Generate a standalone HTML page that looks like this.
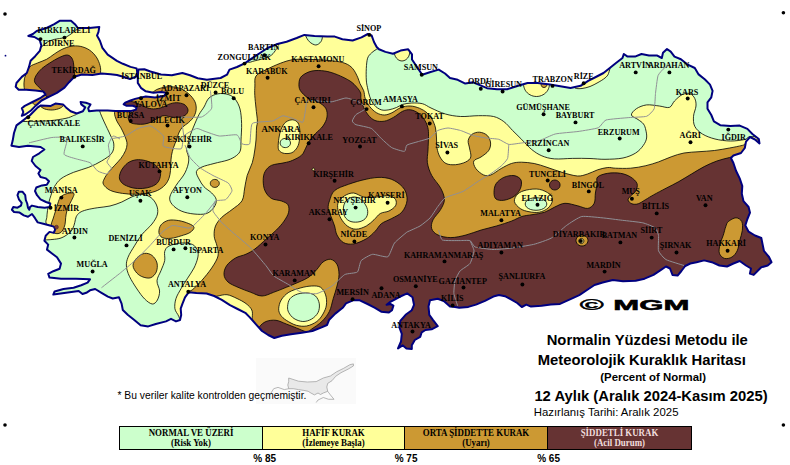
<!DOCTYPE html><html><head><meta charset="utf-8"><title>Kuraklık Haritası</title>
<style>
html,body{margin:0;padding:0;background:#fff;}
body{width:790px;height:465px;overflow:hidden;position:relative;}
svg{position:absolute;left:0;top:0;display:block;}
.c{font-family:"Liberation Serif",serif;font-weight:bold;font-size:8.6px;fill:#000;}
.s{font-family:"Liberation Sans",sans-serif;fill:#000;}
.lg{font-family:"Liberation Serif",serif;font-weight:bold;font-size:10.4px;text-anchor:middle;}
</style></head><body>
<svg width="790" height="465" viewBox="0 0 790 465">
<defs><clipPath id="land"><path d="M138.4,69.5L144.3,69.2L150.4,71.5L161.0,74.5L171.8,75.3L182.4,73.0L190.0,75.3L197.7,78.3L206.9,79.8L220.6,78.0L227.0,74.7L229.5,69.6L237.0,67.0L244.7,63.3L252.3,58.2L260.0,53.0L267.6,48.0L276.4,44.3L286.6,41.7L296.7,38.0L304.4,34.9L314.5,35.9L327.2,36.6L334.8,36.6L342.4,39.2L352.6,40.5L361.5,37.4L367.8,34.0L371.6,35.4L374.0,42.0L376.7,47.0L379.0,49.3L385.4,51.9L393.0,53.7L400.6,50.6L408.2,49.3L412.0,54.4L412.0,59.5L417.0,67.0L422.2,74.7L429.8,72.2L438.7,69.6L445.0,73.5L450.0,78.0L457.7,79.8L465.3,83.6L473.0,82.3L479.3,84.9L487.0,88.2L497.0,89.2L507.2,89.2L517.4,86.0L527.5,83.0L537.7,83.0L550.0,84.6L560.3,86.3L570.5,87.9L580.6,85.8L588.2,80.8L595.8,77.0L603.5,73.0L609.8,68.0L616.0,63.0L622.5,58.0L623.8,54.0L627.6,56.6L635.0,56.6L641.5,54.0L649.0,55.4L656.8,55.4L661.8,58.0L663.0,52.8L667.0,49.0L670.7,51.6L674.5,56.6L680.9,59.2L687.2,64.3L694.8,68.0L698.6,74.4L705.0,79.5L710.0,84.6L712.6,90.9L711.3,97.3L707.5,102.3L707.5,108.7L711.3,115.0L713.9,121.4L720.2,125.2L730.4,126.0L739.7,125.6L747.4,128.9L752.4,134.0L758.8,139.0L759.5,143.4L755.0,139.5L750.0,137.0L746.0,141.6L744.8,148.0L741.0,153.0L733.4,155.5L730.9,158.0L733.4,163.0L736.0,170.8L739.7,178.4L742.3,186.0L741.8,193.6L743.5,201.2L748.6,207.0L750.0,212.7L747.4,219.0L745.3,225.4L748.6,231.7L755.0,235.5L761.3,238.0L762.6,244.4L763.9,250.8L769.0,257.0L771.5,262.2L767.7,265.5L761.3,267.3L757.5,271.0L753.7,274.9L749.9,273.6L751.0,268.5L746.0,265.5L739.7,261.0L733.4,263.5L727.0,266.5L719.4,265.5L711.8,262.2L704.2,260.4L696.6,262.2L690.3,263.5L685.2,266.0L681.4,271.0L677.6,275.6L672.5,274.9L670.0,268.5L666.0,266.5L661.0,269.8L653.5,274.9L644.6,278.7L635.7,280.7L623.0,281.2L612.8,280.0L602.7,282.5L594.5,285.0L587.0,290.0L579.3,295.2L570.0,299.3L560.0,303.9L550.8,304.6L541.6,305.7L531.0,306.6L526.3,304.6L521.8,307.0L517.2,303.0L511.0,299.3L505.0,296.2L498.9,295.0L494.3,296.2L485.0,300.8L476.0,304.6L468.3,306.9L459.2,307.7L455.0,307.0L450.0,306.4L443.8,301.0L437.7,298.7L430.0,300.3L428.5,306.4L429.3,314.8L433.1,320.1L437.7,326.2L431.6,329.3L425.5,330.0L421.7,332.3L420.2,336.9L414.8,340.0L411.8,345.3L411.8,349.0L406.4,348.4L402.6,345.3L398.0,348.4L401.0,341.5L401.8,333.9L399.5,327.7L400.3,320.9L405.6,314.8L411.8,310.2L414.0,304.8L412.5,297.2L407.2,293.4L400.3,296.5L390.4,301.8L386.6,304.8L390.4,304.0L393.4,305.6L392.0,310.2L388.9,312.5L381.2,311.7L375.0,307.9L367.5,304.0L359.8,300.3L353.0,300.3L346.0,303.3L343.0,307.5L335.3,313.6L329.2,319.7L327.0,325.0L321.6,327.3L312.4,331.0L301.8,332.7L291.0,334.2L281.9,335.7L274.3,338.0L268.2,335.0L262.0,331.0L256.0,324.3L249.8,317.4L245.3,312.8L237.6,309.0L230.0,305.2L221.8,299.8L214.2,296.0L206.6,293.5L196.4,293.0L188.8,292.2L185.0,297.3L182.5,303.6L180.7,308.7L181.2,315.0L180.0,320.0L176.0,321.4L171.0,318.8L166.0,321.4L155.8,324.0L148.2,326.4L140.6,325.2L134.3,320.0L128.0,315.0L122.8,310.0L121.6,303.6L119.0,297.3L112.7,298.5L107.9,296.6L101.5,292.8L95.2,289.0L90.0,290.3L86.3,292.8L82.5,294.0L78.7,291.0L66.0,292.8L53.3,294.6L54.6,291.5L63.5,289.0L73.6,287.7L81.2,285.2L87.6,282.6L90.0,279.3L76.0,278.8L61.0,278.8L49.5,277.6L48.2,273.8L53.3,271.2L59.6,268.7L61.0,263.6L57.0,257.3L52.0,253.5L47.0,249.6L48.2,244.6L44.4,240.8L45.7,235.7L49.5,231.9L53.8,232.9L55.2,229.4L53.8,226.6L49.0,225.2L43.3,223.8L37.7,222.4L35.0,218.2L32.0,214.0L28.0,216.8L23.8,215.4L19.6,212.6L14.0,212.0L11.9,209.8L13.3,207.0L17.5,207.7L21.0,205.6L21.7,202.8L18.9,199.3L17.5,195.2L18.9,191.7L22.4,191.7L25.2,195.2L25.8,200.0L27.2,203.5L28.0,207.7L29.3,209.8L30.0,207.0L32.0,205.6L37.7,207.0L44.7,207.7L49.6,207.0L50.3,203.5L46.0,202.0L40.5,199.3L37.0,195.2L35.0,191.0L36.3,187.5L42.0,185.4L46.8,184.7L49.0,181.2L46.0,178.4L40.5,177.0L38.4,173.5L40.5,170.0L35.5,166.0L31.7,161.0L33.0,157.0L39.3,153.3L44.4,149.5L40.6,147.0L28.0,145.7L19.0,147.0L11.4,145.7L12.7,140.6L14.0,133.0L16.5,125.4L21.6,121.6L28.0,116.5L28.2,117.0L31.7,113.5L37.8,107.4L40.9,105.4L50.8,105.9L55.4,103.6L63.0,104.4L66.0,107.4L70.6,111.2L76.8,113.5L82.9,111.2L85.2,107.4L81.3,104.4L80.6,102.0L85.9,102.8L90.5,104.4L88.2,108.2L89.0,111.2L96.6,110.5L107.6,110.4L115.3,111.1L122.9,111.1L130.5,111.1L135.9,109.6L136.6,107.3L132.8,105.8L126.7,105.8L123.7,104.3L125.2,102.7L130.5,100.5L135.1,98.9L141.2,97.4L145.8,96.6L155.0,97.4L164.1,95.9L166.4,92.8L161.0,92.0L153.4,92.8L145.8,91.3L141.2,88.2L137.8,82.9L137.8,76.8Z"/><path d="M28.3,36.0L32.9,34.0L36.7,31.0L46.6,28.0L54.3,24.2L59.6,20.8L71.0,20.8L74.9,24.2L77.9,28.0L89.4,28.0L99.3,26.9L98.5,31.8L97.0,35.6L100.0,41.0L102.4,47.8L107.7,54.7L116.9,60.8L122.9,63.8L130.5,66.9L136.6,68.4L137.2,72.2L135.9,76.8L130.0,79.0L124.0,77.0L117.0,75.0L110.7,74.2L101.6,73.5L92.4,75.0L81.8,74.5L74.4,76.8L69.1,82.2L64.5,87.6L56.9,92.9L49.3,96.7L41.6,100.5L35.5,105.9L31.0,110.5L25.6,114.3L21.8,115.8L23.3,112.0L21.8,108.2L24.8,105.9L32.5,102.0L40.1,98.2L45.5,94.4L43.2,91.4L35.5,90.6L26.4,89.8L18.7,89.8L15.7,86.8L16.5,83.0L21.8,76.9L26.8,73.0L29.0,66.9L30.6,60.8L35.2,56.2L39.8,50.9L41.3,45.5L39.8,40.2L34.4,37.0Z"/></clipPath></defs>
<rect width="790" height="465" fill="#fff"/>
<g clip-path="url(#land)">
<rect x="0" y="0" width="790" height="360" fill="#ffff99"/>
<path d="M25.0,33.0C26.2,30.0 34.2,27.0 40.0,24.0C45.8,21.0 54.2,16.2 60.0,15.0C65.8,13.8 71.7,15.0 75.0,17.0C78.3,19.0 79.9,24.8 80.0,27.0C80.1,29.2 77.1,29.1 75.6,30.3C74.1,31.5 72.8,32.8 71.0,34.0C69.2,35.2 67.3,36.7 64.5,37.6C61.7,38.5 57.3,38.6 54.3,39.4C51.3,40.2 48.6,41.3 46.6,42.5C44.6,43.7 43.4,45.6 42.0,46.5C40.6,47.4 39.5,48.8 38.0,48.0C36.5,47.2 35.2,44.5 33.0,42.0C30.8,39.5 23.8,36.0 25.0,33.0Z" fill="#ccffcc" stroke="#000" stroke-width="0.8"/>
<path d="M0.0,121.0C4.0,102.6 18.1,121.5 24.0,121.5C29.9,121.5 31.0,121.5 35.5,121.3C40.0,121.1 45.7,121.1 50.8,120.6C55.9,120.1 62.2,119.1 66.0,118.3C69.8,117.5 71.9,116.3 73.7,115.5C75.5,114.7 76.2,115.1 76.8,113.5C77.3,111.9 76.5,108.4 77.0,106.0C77.5,103.6 77.0,100.0 80.0,99.0C83.0,98.0 91.7,98.8 95.0,100.0C98.3,101.2 98.9,104.1 99.7,106.0C100.5,107.9 99.0,108.5 99.7,111.2C100.5,113.9 102.4,118.0 104.2,122.0C106.0,126.0 108.7,131.3 110.3,135.0C111.9,138.7 113.6,140.9 113.8,144.0C114.0,147.1 113.8,150.5 111.7,153.3C109.7,156.1 105.3,158.7 101.5,161.0C97.7,163.3 93.5,165.4 88.8,167.3C84.1,169.2 78.2,170.4 73.6,172.3C69.0,174.2 64.2,176.3 61.0,178.7C57.8,181.1 56.2,183.8 54.5,186.5C52.8,189.2 51.9,192.6 51.0,195.2C50.1,197.8 49.6,199.4 49.0,202.0C48.4,204.6 47.9,207.9 47.5,210.5C47.1,213.1 47.0,215.4 46.8,217.5C46.5,219.6 45.5,220.6 46.0,223.0C46.5,225.4 57.7,230.5 50.0,232.0C42.3,233.5 8.3,250.5 0.0,232.0C-8.3,213.5 -4.0,139.4 0.0,121.0Z" fill="#ccffcc" stroke="#000" stroke-width="0.8"/>
<path d="M40.0,240.0C48.7,239.9 48.5,239.8 52.0,239.5C55.5,239.2 58.2,239.0 61.0,238.0C63.8,237.0 66.5,235.2 68.5,233.6C70.5,232.0 71.7,230.6 72.7,228.7C73.8,226.8 74.2,224.4 74.8,222.4C75.4,220.4 75.4,218.4 76.2,216.8C77.0,215.2 78.0,213.8 79.7,212.6C81.5,211.4 83.7,210.6 86.7,209.8C89.7,209.0 93.9,208.3 97.8,207.7C101.7,207.1 106.0,206.9 110.0,206.0C114.0,205.1 118.1,203.5 121.8,202.0C125.5,200.5 128.6,198.1 132.0,196.8C135.4,195.5 138.8,194.3 142.0,194.4C145.2,194.5 148.6,195.8 151.0,197.6C153.4,199.4 155.4,202.3 156.5,205.0C157.6,207.7 158.2,210.8 157.5,214.0C156.8,217.2 154.6,220.6 152.0,224.0C149.4,227.4 144.9,230.8 142.0,234.4C139.1,238.0 136.8,242.0 134.5,245.8C132.2,249.6 129.3,253.9 128.0,257.3C126.7,260.7 126.2,262.8 126.4,266.0C126.6,269.2 127.6,272.5 129.4,276.3C131.2,280.1 134.4,285.2 137.0,289.0C139.6,292.8 142.1,296.5 144.7,299.0C147.2,301.5 150.2,303.8 152.3,304.0C154.4,304.2 156.2,302.2 157.4,300.0C158.6,297.8 159.7,294.2 159.6,291.0C159.5,287.8 156.8,284.2 157.0,280.8C157.2,277.4 159.7,274.0 161.0,270.6C162.3,267.2 164.1,263.7 164.7,260.5C165.3,257.3 164.0,254.0 164.7,251.6C165.4,249.2 166.2,247.4 169.0,246.0C171.8,244.6 177.3,243.2 181.2,243.0C185.1,242.8 189.8,243.2 192.6,244.5C195.3,245.8 196.8,248.8 197.7,251.0C198.5,253.2 198.3,255.2 197.7,258.0C197.1,260.8 195.7,264.6 194.0,268.0C192.3,271.4 189.7,274.8 187.6,278.2C185.5,281.6 183.1,285.0 181.2,288.4C179.3,291.8 177.1,295.1 176.0,298.5C174.9,301.9 174.5,305.7 174.9,308.7C175.3,311.7 177.7,313.6 178.7,316.3C179.7,319.0 180.6,319.4 181.0,325.0C181.4,330.6 211.2,345.8 181.0,350.0C150.8,354.2 30.2,368.3 0.0,350.0C-30.2,331.7 -6.7,258.3 0.0,240.0C6.7,221.7 31.3,240.1 40.0,240.0Z" fill="#ccffcc" stroke="#000" stroke-width="0.8"/>
<path d="M209.0,98.0C211.3,95.8 214.8,94.4 218.0,93.8C221.2,93.2 225.4,93.6 228.2,94.5C231.0,95.4 233.0,96.6 235.0,99.0C237.0,101.4 238.9,104.9 240.0,109.0C241.1,113.1 241.4,118.3 241.6,123.5C241.8,128.7 241.2,135.6 241.0,140.0C240.8,144.4 241.2,147.4 240.5,150.0C239.8,152.6 238.6,153.8 236.5,155.5C234.4,157.2 231.8,158.7 228.0,160.0C224.2,161.3 218.3,162.3 214.0,163.5C209.7,164.7 204.9,165.7 202.0,167.0C199.1,168.3 196.9,169.6 196.4,171.6C195.9,173.6 197.7,176.5 199.0,179.0C200.3,181.5 201.9,184.5 204.0,186.8C206.1,189.1 209.7,190.9 211.7,193.0C213.7,195.1 215.8,197.2 216.2,199.5C216.6,201.8 215.8,204.7 214.2,207.0C212.6,209.3 210.0,212.3 206.6,213.5C203.2,214.7 198.2,214.4 194.0,214.0C189.8,213.6 184.8,212.6 181.2,211.0C177.6,209.4 174.2,206.9 172.3,204.6C170.4,202.3 169.2,200.2 169.8,197.0C170.4,193.8 173.5,189.5 176.0,185.5C178.5,181.5 182.9,177.1 185.0,172.8C187.1,168.6 188.6,163.8 188.8,160.0C189.1,156.2 186.7,152.3 186.5,150.0C186.3,147.7 187.0,148.6 187.6,146.3C188.2,144.0 188.9,139.4 190.0,136.0C191.1,132.6 192.4,129.6 193.9,126.0C195.4,122.4 197.3,117.8 199.0,114.6C200.7,111.4 202.3,109.8 204.0,107.0C205.7,104.2 206.7,100.2 209.0,98.0Z" fill="#ccffcc" stroke="#000" stroke-width="0.8"/>
<path d="M400.0,25.0C332.7,28.7 389.5,38.2 386.0,42.0C382.5,45.8 380.6,46.8 379.0,48.0C377.4,49.2 377.8,48.5 376.5,49.3C375.2,50.1 372.9,51.5 371.4,53.0C369.9,54.5 368.5,55.6 367.6,58.2C366.8,60.8 366.5,64.8 366.3,68.4C366.1,72.0 366.1,76.8 366.3,80.0C366.5,83.2 366.9,84.8 367.5,87.6C368.1,90.4 368.7,93.9 369.8,96.8C370.9,99.7 372.5,103.0 374.4,105.2C376.3,107.4 378.8,109.0 381.2,109.8C383.6,110.6 386.3,110.2 388.9,109.8C391.4,109.4 394.2,108.4 396.5,107.5C398.8,106.6 400.1,105.2 402.6,104.4C405.2,103.7 408.5,103.1 411.8,103.0C415.1,102.9 419.2,102.9 422.4,103.7C425.6,104.5 427.2,106.3 431.0,108.0C434.8,109.7 440.5,112.6 445.4,114.0C450.3,115.4 455.1,116.2 460.6,116.5C466.1,116.8 472.9,115.7 478.4,115.7C483.9,115.7 489.4,115.5 493.6,116.5C497.8,117.5 500.6,119.3 503.8,121.6C507.0,123.9 509.7,127.5 512.6,130.5C515.6,133.4 518.3,136.1 521.5,139.3C524.7,142.5 528.3,146.8 531.7,149.5C535.1,152.2 538.0,154.2 541.8,155.8C545.6,157.4 549.4,158.5 554.5,158.9C559.6,159.3 566.4,158.5 572.3,158.4C578.2,158.3 584.5,158.3 590.0,158.5C595.5,158.7 599.5,159.4 605.0,159.3C610.5,159.2 617.9,159.1 623.0,158.0C628.1,156.9 632.3,155.1 635.7,153.0C639.1,150.9 641.5,147.9 643.3,145.4C645.1,142.9 646.2,140.6 646.6,138.0C647.0,135.4 646.3,132.3 645.8,130.0C645.3,127.7 644.8,125.8 643.5,124.0C642.2,122.2 640.0,121.0 638.0,119.5C636.0,118.0 631.7,116.8 631.4,115.0C631.1,113.2 633.9,110.4 636.4,108.7C638.9,107.0 642.8,105.4 646.6,104.9C650.4,104.5 655.5,105.6 659.3,106.0C663.1,106.4 666.9,108.2 669.4,107.4C671.9,106.6 672.4,103.1 674.5,101.0C676.6,98.9 679.5,96.0 682.0,94.7C684.5,93.5 687.6,92.9 689.7,93.5C691.8,94.1 693.8,96.4 694.8,98.5C695.8,100.6 696.2,103.0 696.0,106.0C695.8,109.0 693.7,112.9 693.5,116.3C693.3,119.7 693.3,123.5 694.8,126.4C696.3,129.3 699.0,131.9 702.4,134.0C705.8,136.1 710.3,137.8 715.0,139.0C719.7,140.2 725.4,140.9 730.4,141.0C735.4,141.1 741.1,140.2 744.8,139.5C748.5,138.8 744.9,137.1 752.4,136.5C759.9,135.9 783.7,155.4 790.0,136.0C796.3,116.6 855.0,38.5 790.0,20.0C725.0,1.5 467.3,21.3 400.0,25.0Z" fill="#ccffcc" stroke="#000" stroke-width="0.8"/>
<path d="M305.6,30.0C302.8,30.9 305.0,33.4 305.6,35.4C306.2,37.4 307.7,40.1 309.4,41.7C311.1,43.3 313.9,45.0 315.8,45.0C317.7,45.0 319.8,43.2 320.9,41.7C322.0,40.2 322.3,38.0 322.6,36.0C322.9,34.0 325.4,31.0 322.6,30.0C319.8,29.0 308.4,29.1 305.6,30.0Z" fill="#ccffcc" stroke="#000" stroke-width="0.8"/>
<path d="M248.0,62.0C249.3,63.0 251.8,61.5 254.0,61.0C256.2,60.5 258.3,60.1 261.0,59.3C263.7,58.5 267.9,57.4 270.2,56.0C272.5,54.6 273.9,52.7 275.0,51.0C276.1,49.3 278.7,47.2 277.0,46.0C275.3,44.8 270.2,42.5 265.0,44.0C259.8,45.5 248.8,52.0 246.0,55.0C243.2,58.0 246.7,61.0 248.0,62.0Z" fill="#ccffcc" stroke="#000" stroke-width="0.8"/>
<path d="M549.5,84.0C549.5,86.1 548.8,88.4 547.8,90.2C546.7,92.1 544.9,93.8 543.0,94.8C541.1,95.9 538.7,96.5 536.5,96.5C534.3,96.5 531.9,95.9 530.0,94.8C528.1,93.8 526.3,92.1 525.2,90.2C524.2,88.4 523.5,86.1 523.5,84.0C523.5,81.9 524.2,79.6 525.2,77.8C526.3,75.9 528.1,74.2 530.0,73.2C531.9,72.1 534.3,71.5 536.5,71.5C538.7,71.5 541.1,72.1 543.0,73.2C544.9,74.2 546.7,75.9 547.8,77.8C548.8,79.6 549.5,81.9 549.5,84.0Z" fill="#ffff99" stroke="#000" stroke-width="0.8"/>
<path d="M409.8,51.5C409.8,53.1 409.4,54.9 408.8,56.2C408.1,57.6 407.0,58.9 405.9,59.7C404.8,60.5 403.3,61.0 402.0,61.0C400.7,61.0 399.2,60.5 398.1,59.7C397.0,58.9 395.9,57.6 395.2,56.2C394.6,54.9 394.2,53.1 394.2,51.5C394.2,49.9 394.6,48.1 395.2,46.8C395.9,45.4 397.0,44.1 398.1,43.3C399.2,42.5 400.7,42.0 402.0,42.0C403.3,42.0 404.8,42.5 405.9,43.3C407.0,44.1 408.1,45.4 408.8,46.7C409.4,48.1 409.8,49.9 409.8,51.5Z" fill="#ffff99" stroke="#000" stroke-width="0.8"/>
<path d="M575.0,88.0C576.2,88.8 579.5,88.8 582.0,88.5C584.5,88.2 587.3,87.5 590.0,86.5C592.7,85.5 595.5,83.9 598.0,82.5C600.5,81.1 603.2,79.5 605.0,78.0C606.8,76.5 607.8,75.5 608.5,73.5C609.2,71.5 610.9,66.6 609.5,66.0C608.1,65.4 604.1,67.7 600.0,70.0C595.9,72.3 589.2,77.7 585.0,80.0C580.8,82.3 576.7,82.7 575.0,84.0C573.3,85.3 573.8,87.2 575.0,88.0Z" fill="#ffff99" stroke="#000" stroke-width="0.8"/>
<path d="M25.3,76.0C26.2,73.8 27.8,69.1 29.8,66.9C31.8,64.7 34.7,64.3 37.5,63.0C40.3,61.7 43.8,60.8 46.6,59.3C49.4,57.8 51.8,55.6 54.3,54.0C56.8,52.4 59.1,50.7 61.9,49.4C64.7,48.1 68.0,46.8 71.0,46.3C74.0,45.8 77.1,45.7 80.2,46.3C83.3,46.9 86.7,48.2 89.4,50.0C92.1,51.8 94.5,54.4 96.3,57.0C98.1,59.6 99.3,62.9 100.0,65.4C100.7,68.0 100.8,70.2 100.5,72.3C100.2,74.4 100.6,76.4 98.0,78.0C95.4,79.6 89.7,79.7 85.0,82.0C80.3,84.3 75.0,89.5 70.0,92.0C65.0,94.5 58.7,96.3 55.0,97.0C51.3,97.7 49.7,96.7 48.0,96.0C46.3,95.3 47.2,93.6 45.0,93.0C42.8,92.4 38.2,92.7 35.0,92.5C31.8,92.3 27.8,93.1 26.0,92.0C24.2,90.9 24.3,88.0 24.0,86.0C23.7,84.0 24.1,81.7 24.3,80.0C24.5,78.3 24.4,78.2 25.3,76.0Z" fill="#cc9933" stroke="#000" stroke-width="0.8"/>
<path d="M38.0,103.0C38.4,104.0 39.0,104.9 40.1,105.9C41.2,106.9 42.7,108.3 44.7,109.0C46.7,109.7 49.8,110.1 52.3,110.0C54.8,109.9 58.1,109.1 60.0,108.2C61.9,107.3 63.1,106.2 63.8,104.8C64.5,103.4 68.3,100.8 64.0,100.0C59.7,99.2 42.3,99.5 38.0,100.0C33.7,100.5 37.6,102.0 38.0,103.0Z" fill="#cc9933" stroke="#000" stroke-width="0.8"/>
<path d="M46.0,94.0C46.5,94.7 47.7,95.9 47.0,97.0C46.3,98.1 43.4,99.5 41.6,100.8C39.9,102.1 37.9,104.5 36.5,105.0C35.1,105.5 33.6,104.2 33.0,103.5C32.4,102.8 31.8,102.1 33.0,101.0C34.2,99.9 38.2,98.3 40.0,97.0C41.8,95.7 43.0,93.5 44.0,93.0C45.0,92.5 45.5,93.3 46.0,94.0Z" fill="#cc9933" stroke="#000" stroke-width="0.8"/>
<path d="M152.0,92.5C154.2,91.6 155.2,90.0 158.0,89.0C160.8,88.0 165.1,86.8 168.7,86.7C172.3,86.6 176.1,87.1 179.4,88.2C182.7,89.3 185.9,91.4 188.5,93.6C191.1,95.8 193.4,98.7 194.7,101.2C196.0,103.8 196.3,106.4 196.2,108.9C196.1,111.5 195.2,114.2 193.9,116.5C192.6,118.8 190.4,120.8 188.5,122.6C186.6,124.4 184.0,125.5 182.4,127.2C180.8,128.9 179.8,130.9 178.8,133.0C177.8,135.1 177.4,137.6 176.5,140.0C175.6,142.4 174.3,145.0 173.5,147.6C172.7,150.2 171.9,152.8 171.5,155.3C171.1,157.9 171.0,160.4 170.8,162.9C170.6,165.4 170.8,167.9 170.5,170.5C170.2,173.1 169.9,175.8 169.0,178.2C168.1,180.6 166.9,183.0 165.0,185.0C163.1,187.0 160.6,189.0 157.6,190.4C154.6,191.8 150.7,192.8 146.9,193.4C143.1,194.0 138.8,194.2 134.7,194.2C130.6,194.2 126.6,194.0 122.5,193.4C118.4,192.8 113.5,191.9 110.3,190.4C107.1,188.9 104.4,186.2 103.4,184.3C102.4,182.4 103.3,181.1 104.2,179.0C105.1,176.9 106.9,174.3 108.7,172.0C110.5,169.7 112.8,167.5 114.8,165.2C116.8,162.9 119.2,160.7 121.0,158.3C122.8,155.9 124.5,153.0 125.5,150.7C126.5,148.4 126.9,146.4 127.0,144.6C127.1,142.8 126.9,141.9 126.3,140.0C125.7,138.1 124.5,135.1 123.5,133.0C122.5,130.9 121.7,129.2 120.6,127.2C119.5,125.2 117.8,123.4 116.8,121.0C115.8,118.6 114.3,115.0 114.5,112.7C114.7,110.4 116.8,109.1 118.0,107.0C119.2,104.9 119.2,102.0 122.0,100.0C124.8,98.0 131.2,95.9 135.0,95.0C138.8,94.1 142.2,94.9 145.0,94.5C147.8,94.1 149.8,93.4 152.0,92.5Z" fill="#cc9933" stroke="#000" stroke-width="0.8"/>
<path d="M51.0,225.2C51.2,223.2 52.3,221.2 53.0,219.0C53.7,216.8 54.5,214.3 55.2,212.0C55.9,209.7 56.5,207.3 57.3,205.0C58.1,202.7 58.8,199.8 60.0,198.0C61.2,196.2 62.6,195.3 64.3,194.5C66.0,193.7 68.3,193.2 69.9,193.0C71.5,192.8 73.5,192.7 74.0,193.5C74.5,194.3 73.4,196.3 72.7,198.0C72.0,199.7 70.9,201.4 69.9,203.5C69.0,205.6 67.7,208.2 67.0,210.5C66.3,212.8 66.0,215.2 65.7,217.5C65.4,219.8 65.5,222.4 65.0,224.5C64.5,226.6 63.7,228.6 62.9,230.0C62.1,231.4 61.1,232.4 60.0,233.0C58.9,233.6 57.3,233.9 56.0,233.6C54.7,233.3 52.8,232.4 52.0,231.0C51.2,229.6 50.8,227.2 51.0,225.2Z" fill="#cc9933" stroke="#000" stroke-width="0.8"/>
<path d="M158.9,232.5C158.7,230.4 159.4,226.9 161.0,224.9C162.6,222.9 165.6,221.0 168.5,220.3C171.4,219.6 175.3,220.1 178.7,220.6C182.1,221.1 186.2,222.5 188.8,223.6C191.4,224.7 193.8,225.9 194.0,227.4C194.2,228.9 192.1,231.1 190.0,232.5C187.9,233.9 184.4,234.8 181.2,235.8C178.0,236.8 174.2,238.0 171.0,238.3C167.8,238.6 164.2,238.6 162.2,237.6C160.2,236.6 159.1,234.6 158.9,232.5Z" fill="#cc9933" stroke="#000" stroke-width="0.8"/>
<path d="M133.0,265.5C133.0,263.0 134.9,260.0 136.8,258.0C138.7,256.0 141.9,253.8 144.4,253.4C146.9,253.0 149.9,253.8 152.0,255.4C154.1,257.0 156.3,260.2 157.0,263.0C157.7,265.8 157.3,269.4 156.3,271.9C155.3,274.3 153.0,276.8 150.8,277.7C148.6,278.6 145.3,277.8 143.0,277.0C140.7,276.2 138.5,274.9 136.8,273.0C135.1,271.1 133.0,268.0 133.0,265.5Z" fill="#cc9933" stroke="#000" stroke-width="0.8"/>
<path d="M219.3,183.4C219.3,184.1 219.1,184.8 218.7,185.4C218.3,186.0 217.7,186.5 217.1,186.9C216.4,187.2 215.6,187.4 214.8,187.4C214.1,187.4 213.2,187.2 212.6,186.9C211.9,186.5 211.3,186.0 210.9,185.4C210.5,184.8 210.3,184.1 210.3,183.4C210.3,182.7 210.5,182.0 210.9,181.4C211.3,180.8 211.9,180.3 212.6,179.9C213.2,179.6 214.1,179.4 214.8,179.4C215.6,179.4 216.4,179.6 217.1,179.9C217.7,180.3 218.3,180.8 218.7,181.4C219.1,182.0 219.3,182.7 219.3,183.4Z" fill="#cc9933" stroke="#000" stroke-width="0.8"/>
<path d="M256.0,76.0C257.9,73.3 262.2,71.7 266.3,69.6C270.4,67.5 275.7,65.0 280.3,63.3C284.9,61.6 288.9,60.1 294.2,59.5C299.5,58.9 305.6,59.3 312.0,59.5C318.4,59.7 326.8,60.2 332.3,60.8C337.8,61.4 341.6,62.0 345.0,63.3C348.4,64.6 350.5,66.1 352.6,68.4C354.7,70.7 356.5,74.8 357.7,77.3C358.9,79.8 359.0,81.4 360.0,83.6C361.0,85.8 362.8,88.2 363.7,90.7C364.6,93.2 364.2,95.6 365.2,98.3C366.2,101.0 367.9,104.3 369.8,106.7C371.7,109.1 374.2,111.4 376.6,112.8C379.0,114.2 381.8,115.0 384.3,115.0C386.9,115.0 389.1,114.0 391.9,112.8C394.7,111.5 397.9,108.6 401.0,107.5C404.1,106.4 407.1,105.9 410.2,106.0C413.3,106.1 416.6,107.1 419.4,108.2C422.2,109.3 424.9,111.0 427.0,112.8C429.1,114.6 430.6,116.5 432.0,119.0C433.4,121.5 434.8,124.8 435.5,128.0C436.2,131.2 436.2,134.7 436.5,138.0C436.8,141.3 436.4,144.8 437.0,148.0C437.6,151.2 438.5,154.4 440.0,157.0C441.5,159.6 443.4,162.2 446.0,163.5C448.6,164.8 452.2,164.9 455.5,164.7C458.8,164.4 463.1,163.3 465.7,162.0C468.2,160.7 470.2,159.3 470.8,157.0C471.4,154.7 469.9,150.7 469.5,148.0C469.1,145.3 467.8,142.9 468.2,140.6C468.6,138.3 470.1,135.7 472.0,134.3C473.9,132.9 477.1,132.0 479.6,132.2C482.2,132.4 485.5,133.7 487.3,135.5C489.1,137.3 490.4,140.4 490.6,143.0C490.8,145.6 490.1,148.5 488.5,150.8C486.9,153.1 483.4,155.3 481.0,157.0C478.6,158.7 474.7,159.1 473.8,161.0C472.9,162.9 474.2,166.2 475.8,168.5C477.4,170.8 481.0,173.8 483.5,174.9C486.0,176.0 488.1,176.0 491.0,174.9C493.9,173.8 497.8,170.4 501.2,168.5C504.6,166.6 508.0,164.6 511.4,163.5C514.8,162.4 517.7,162.2 521.5,162.2C525.3,162.2 530.0,162.7 534.2,163.5C538.5,164.3 542.4,165.8 547.0,167.3C551.6,168.8 556.9,170.9 562.0,172.3C567.1,173.8 573.1,175.7 577.4,176.0C581.6,176.3 584.1,175.0 587.5,174.0C590.9,173.0 594.3,170.9 597.7,169.8C601.1,168.7 604.8,167.8 607.8,167.5C610.8,167.2 611.6,168.1 615.4,168.2C619.2,168.3 625.5,168.6 630.6,168.2C635.7,167.8 641.1,166.8 645.8,165.7C650.4,164.6 654.3,163.4 658.5,161.9C662.7,160.4 667.0,158.3 671.2,156.8C675.5,155.3 679.4,153.8 684.0,153.0C688.6,152.2 693.9,152.1 699.0,151.7C704.1,151.3 709.3,151.1 714.4,150.5C719.5,149.9 725.0,148.8 729.6,148.0C734.2,147.2 738.9,146.2 742.3,145.4C745.7,144.7 742.0,143.9 750.0,143.5C758.0,143.1 783.3,106.9 790.0,143.0C796.7,179.1 881.7,323.8 790.0,360.0C698.3,396.2 337.0,366.3 240.0,360.0C143.0,353.7 215.7,332.2 208.0,322.0C200.3,311.8 197.2,304.0 194.0,299.0C190.8,294.0 189.0,293.8 188.8,292.2C188.6,290.6 190.5,291.5 192.6,289.6C194.7,287.7 198.3,284.4 201.5,280.8C204.7,277.2 208.9,272.1 211.7,268.0C214.4,263.9 217.1,259.7 218.0,256.0C218.9,252.3 217.6,249.3 217.0,246.0C216.4,242.7 214.4,239.6 214.2,236.3C213.9,233.0 214.2,229.2 215.5,226.0C216.8,222.8 219.1,220.0 221.8,217.3C224.6,214.6 228.6,212.3 232.0,209.6C235.4,206.8 239.9,204.4 242.0,200.8C244.1,197.2 243.8,192.2 244.7,188.0C245.6,183.8 245.9,179.6 247.2,175.4C248.5,171.2 251.0,166.9 252.3,162.7C253.6,158.5 254.2,153.8 254.8,150.0C255.4,146.2 255.7,143.7 256.0,140.0C256.3,136.3 256.3,131.2 256.5,128.0C256.7,124.8 257.5,124.3 257.4,121.0C257.3,117.7 256.4,112.5 256.0,108.2C255.6,104.0 255.0,99.2 254.8,95.5C254.6,91.8 254.7,89.2 254.9,86.0C255.1,82.8 254.1,78.7 256.0,76.0Z" fill="#cc9933" stroke="#000" stroke-width="0.8"/>
<path d="M546.9,84.6C546.9,85.3 546.5,86.2 546.1,86.7C545.6,87.1 544.7,87.5 544.0,87.5C543.3,87.5 542.4,87.1 541.9,86.7C541.5,86.2 541.1,85.3 541.1,84.6C541.1,83.9 541.5,83.0 541.9,82.5C542.4,82.1 543.3,81.7 544.0,81.7C544.7,81.7 545.6,82.1 546.1,82.5C546.5,83.0 546.9,83.9 546.9,84.6Z" fill="#cc9933" stroke="#000" stroke-width="0.8"/>
<path d="M34.4,80.6C34.4,78.8 35.4,76.5 36.7,74.5C38.0,72.5 39.8,70.3 42.0,68.4C44.2,66.5 46.9,64.8 49.7,63.0C52.5,61.2 56.1,59.0 58.9,57.7C61.7,56.4 64.5,55.1 66.5,55.0C68.5,54.9 69.8,55.8 71.0,57.0C72.2,58.2 72.9,60.1 73.4,62.3C73.9,64.5 73.8,67.5 74.0,70.0C74.2,72.5 75.2,74.7 74.5,77.0C73.8,79.3 72.1,81.7 70.0,84.0C67.9,86.3 65.0,88.8 62.0,91.0C59.0,93.2 54.7,96.2 52.0,97.0C49.3,97.8 47.5,96.9 46.0,96.0C44.5,95.1 44.7,93.2 43.2,91.4C41.7,89.6 38.5,87.1 37.0,85.3C35.5,83.5 34.4,82.4 34.4,80.6Z" fill="#663333" stroke="#000" stroke-width="0.8"/>
<path d="M124.0,102.5C125.1,101.5 127.9,100.9 130.5,101.2C133.1,101.5 137.1,103.3 139.7,104.3C142.2,105.3 143.5,106.5 145.8,107.3C148.1,108.1 150.6,108.9 153.4,108.9C156.2,108.9 160.1,108.1 162.6,107.3C165.1,106.5 166.4,105.1 168.7,104.3C171.0,103.5 173.8,102.7 176.3,102.7C178.9,102.7 182.1,103.3 184.0,104.3C185.9,105.3 187.3,107.4 187.8,108.9C188.3,110.4 187.9,112.1 187.0,113.4C186.1,114.7 184.7,115.8 182.4,116.5C180.1,117.2 176.4,117.4 173.3,117.3C170.2,117.2 166.7,115.6 164.1,115.7C161.5,115.8 160.0,117.0 158.0,118.0C156.0,119.0 154.2,120.8 151.9,121.8C149.6,122.8 146.9,123.7 144.3,124.1C141.8,124.5 138.9,124.3 136.6,124.1C134.3,123.8 131.9,123.6 130.5,122.6C129.1,121.6 128.3,119.5 128.2,118.0C128.1,116.5 129.1,114.9 130.0,113.8C130.9,112.7 133.5,112.2 133.5,111.5C133.5,110.8 131.6,110.2 130.0,109.5C128.4,108.8 125.0,108.7 124.0,107.5C123.0,106.3 122.9,103.5 124.0,102.5Z" fill="#663333" stroke="#000" stroke-width="0.8"/>
<path d="M119.4,176.6C119.6,174.7 120.3,172.1 121.7,169.8C123.1,167.5 125.4,164.6 127.8,162.9C130.2,161.2 133.3,160.2 136.2,159.8C139.1,159.4 142.3,159.8 145.4,160.6C148.5,161.4 152.1,162.8 154.5,164.4C156.9,166.1 158.9,168.5 159.9,170.5C160.9,172.5 160.7,174.6 160.3,176.6C159.9,178.6 159.1,181.0 157.6,182.7C156.1,184.4 154.1,185.6 151.5,186.6C148.9,187.6 145.4,188.3 142.3,188.5C139.2,188.7 136.1,188.6 133.2,188.0C130.3,187.4 126.9,186.1 124.8,185.0C122.7,183.9 121.5,182.6 120.6,181.2C119.7,179.8 119.2,178.5 119.4,176.6Z" fill="#663333" stroke="#000" stroke-width="0.8"/>
<path d="M299.0,83.0C299.2,80.6 299.6,78.0 301.8,76.0C304.0,74.0 308.2,71.8 312.0,71.0C315.8,70.2 320.5,70.4 324.7,71.0C328.9,71.6 333.2,73.0 337.4,74.7C341.6,76.4 346.7,78.9 350.0,81.0C353.3,83.1 355.2,85.5 357.0,87.5C358.8,89.5 359.9,91.1 360.6,93.0C361.3,94.9 360.5,96.6 361.0,99.0C361.5,101.4 362.5,104.8 363.7,107.5C364.9,110.2 366.3,112.8 368.2,115.0C370.1,117.2 372.3,119.5 375.0,120.5C377.7,121.5 381.2,121.7 384.3,121.2C387.4,120.7 390.3,119.1 393.4,117.4C396.4,115.8 399.8,112.6 402.6,111.3C405.4,110.0 407.6,109.5 410.2,109.8C412.8,110.0 415.6,111.3 417.9,112.8C420.2,114.3 422.4,116.6 424.0,119.0C425.6,121.4 427.1,124.4 427.8,127.3C428.6,130.2 428.5,132.7 428.5,136.5C428.5,140.3 428.2,145.6 428.0,150.0C427.8,154.4 426.8,158.5 427.4,162.7C428.0,166.9 429.5,171.2 431.7,175.4C433.9,179.6 438.5,184.0 440.6,188.0C442.7,192.0 444.4,195.9 444.4,199.5C444.4,203.1 442.5,206.2 440.6,209.6C438.7,213.0 434.5,216.6 433.0,219.8C431.5,223.0 430.9,226.2 431.7,228.7C432.5,231.2 434.8,233.5 438.0,235.0C441.2,236.5 446.1,237.6 450.8,237.6C455.5,237.6 460.9,236.3 466.0,235.0C471.1,233.7 476.1,231.5 481.2,230.0C486.3,228.5 491.3,227.5 496.4,226.0C501.5,224.5 507.5,222.6 511.7,221.0C515.9,219.4 518.4,217.6 521.8,216.5C525.2,215.4 528.2,215.4 532.0,214.7C535.8,214.0 540.9,213.5 544.7,212.2C548.5,210.9 551.4,208.5 554.8,207.0C558.2,205.5 561.2,203.5 565.0,203.3C568.8,203.1 573.9,205.0 577.7,205.8C581.5,206.7 585.0,208.8 587.8,208.4C590.5,208.0 592.9,205.9 594.2,203.3C595.5,200.7 594.9,196.2 595.4,193.0C595.9,189.8 596.6,186.7 597.0,184.0C597.4,181.3 595.8,178.8 597.6,177.0C599.4,175.2 604.0,173.9 607.8,173.3C611.6,172.7 616.7,172.7 620.5,173.3C624.3,173.9 627.9,175.3 630.6,177.0C633.4,178.7 636.1,181.2 637.0,183.5C637.9,185.8 636.8,188.9 635.7,191.0C634.6,193.1 631.9,194.5 630.6,196.0C629.3,197.5 627.8,198.7 628.0,200.0C628.2,201.3 630.2,203.2 631.9,203.8C633.6,204.4 635.9,204.5 638.2,203.8C640.5,203.1 643.2,201.0 645.8,199.5C648.3,198.0 650.1,196.8 653.5,194.9C656.9,193.0 661.9,190.4 666.1,188.2C670.3,186.0 674.6,184.0 678.8,181.6C683.0,179.2 687.3,176.5 691.5,174.0C695.7,171.5 700.0,168.8 704.2,166.6C708.4,164.4 712.7,162.5 716.9,161.0C721.1,159.5 725.4,158.6 729.6,157.5C733.8,156.4 738.6,155.3 742.3,154.5C746.0,153.7 744.0,152.9 752.0,152.5C760.0,152.1 783.7,117.4 790.0,152.0C796.3,186.6 879.2,325.3 790.0,360.0C700.8,394.7 343.7,364.7 255.0,360.0C166.3,355.3 257.2,337.6 258.0,332.0C258.8,326.4 258.3,328.4 259.6,326.6C260.9,324.9 263.3,322.6 266.0,321.5C268.7,320.4 272.6,319.9 276.0,320.3C279.4,320.7 282.9,322.7 286.3,324.0C289.7,325.3 293.0,326.6 296.4,327.9C299.8,329.2 304.1,331.5 306.6,331.7C309.2,331.9 309.2,330.7 311.7,329.0C314.2,327.3 318.9,324.4 321.8,321.5C324.8,318.6 327.5,315.2 329.4,311.4C331.3,307.6 331.9,302.9 333.2,298.7C334.5,294.5 336.0,290.0 337.0,286.0C338.0,282.0 339.0,278.2 339.0,274.6C339.0,271.0 338.4,266.9 337.0,264.4C335.6,261.8 333.0,259.7 330.7,259.3C328.4,258.9 325.3,260.3 323.0,262.0C320.7,263.7 319.1,267.0 316.8,269.5C314.5,272.0 312.0,274.9 309.0,277.0C306.0,279.1 302.8,280.3 299.0,282.0C295.2,283.7 290.5,285.6 286.3,287.3C282.1,289.0 277.7,290.9 273.6,292.3C269.6,293.8 265.8,296.0 262.0,296.0C258.2,296.0 254.8,293.8 250.8,292.3C246.8,290.9 241.8,289.0 238.0,287.3C234.2,285.6 230.3,284.1 228.0,282.0C225.7,279.9 224.2,277.3 224.0,274.6C223.8,271.9 224.7,268.5 226.6,265.7C228.5,262.9 232.3,259.9 235.5,258.0C238.7,256.1 242.8,255.7 246.0,254.2C249.2,252.7 251.5,251.5 254.9,249.0C258.3,246.5 262.7,242.2 266.3,239.0C269.9,235.8 273.4,233.0 276.4,230.0C279.3,227.0 282.0,224.1 284.0,221.2C286.0,218.2 288.0,215.1 288.6,212.3C289.2,209.6 289.1,206.6 287.9,204.7C286.7,202.8 284.2,202.1 281.5,201.0C278.8,199.9 274.1,200.1 271.4,198.4C268.6,196.7 266.4,193.8 265.0,190.8C263.6,187.8 263.2,183.8 263.2,180.6C263.2,177.4 263.6,174.2 265.0,171.7C266.4,169.2 268.2,166.9 271.4,165.4C274.6,163.9 280.4,163.7 284.0,162.8C287.6,162.0 289.8,161.6 292.7,160.3C295.6,159.0 299.5,157.1 301.6,155.2C303.7,153.3 304.1,151.1 305.4,148.8C306.7,146.5 307.5,143.7 309.2,141.2C310.9,138.7 313.2,136.1 315.5,133.6C317.8,131.1 321.1,128.8 323.0,126.0C324.9,123.2 326.6,120.0 327.0,117.0C327.4,114.0 327.2,110.7 325.7,108.2C324.2,105.7 320.9,103.6 318.0,101.9C315.1,100.2 310.9,99.9 308.0,98.0C305.1,96.1 301.8,93.0 300.3,90.5C298.8,88.0 298.8,85.4 299.0,83.0Z" fill="#663333" stroke="#000" stroke-width="0.8"/>
<path d="M494.0,192.6C494.0,190.1 494.4,186.3 496.0,183.8C497.6,181.3 500.8,178.8 503.8,177.4C506.8,176.0 511.1,175.2 514.0,175.6C516.9,176.0 520.0,177.8 521.0,180.0C522.0,182.2 521.5,186.1 520.3,188.8C519.1,191.5 516.8,194.5 514.0,196.4C511.2,198.3 506.8,199.9 503.8,200.3C500.8,200.7 497.6,200.3 496.0,199.0C494.4,197.7 494.0,195.1 494.0,192.6Z" fill="#663333" stroke="#000" stroke-width="0.8"/>
<path d="M560.1,185.0C560.1,185.8 559.8,186.8 559.4,187.5C558.9,188.2 558.2,188.9 557.4,189.3C556.7,189.7 555.7,190.0 554.8,190.0C553.9,190.0 552.9,189.7 552.1,189.3C551.4,188.9 550.7,188.2 550.2,187.5C549.8,186.8 549.5,185.8 549.5,185.0C549.5,184.2 549.8,183.2 550.2,182.5C550.7,181.8 551.4,181.1 552.1,180.7C552.9,180.3 553.9,180.0 554.8,180.0C555.7,180.0 556.7,180.3 557.4,180.7C558.2,181.1 558.9,181.8 559.4,182.5C559.8,183.2 560.1,184.2 560.1,185.0Z" fill="#663333" stroke="#000" stroke-width="0.8"/>
<path d="M329.5,200.8C330.6,197.8 331.4,193.3 334.6,190.6C337.8,187.8 343.2,186.2 348.5,184.3C353.8,182.4 360.8,180.3 366.3,179.2C371.8,178.0 376.9,177.2 381.5,177.4C386.1,177.6 390.4,178.5 394.2,180.5C398.0,182.5 402.3,185.9 404.4,189.3C406.5,192.7 407.4,197.0 407.0,200.8C406.6,204.6 404.4,209.2 401.8,212.2C399.2,215.1 395.1,216.6 391.7,218.5C388.3,220.4 384.2,221.5 381.5,223.6C378.8,225.7 377.7,228.7 375.2,231.2C372.7,233.7 369.9,236.7 366.3,238.8C362.7,240.9 357.4,243.3 353.6,243.9C349.8,244.5 346.3,244.1 343.5,242.6C340.7,241.1 338.5,237.8 337.0,235.0C335.5,232.2 335.6,229.2 334.6,226.0C333.6,222.8 331.9,218.9 330.8,216.0C329.7,213.1 328.4,210.9 328.2,208.4C328.0,205.9 328.4,203.8 329.5,200.8Z" fill="#cc9933" stroke="#000" stroke-width="0.8"/>
<path d="M728.3,221.6C730.0,220.1 733.8,217.8 736.0,217.8C738.2,217.8 740.8,219.5 741.8,221.6C742.8,223.7 742.6,227.3 742.3,230.5C741.9,233.7 740.6,237.2 739.7,240.6C738.9,244.0 738.5,248.1 737.2,250.8C735.9,253.5 734.1,255.7 732.0,257.0C729.9,258.3 726.6,259.0 724.5,258.4C722.4,257.8 720.1,255.6 719.4,253.3C718.6,251.0 719.4,247.4 720.0,244.4C720.6,241.4 722.2,238.5 723.2,235.5C724.2,232.5 724.9,228.9 725.8,226.6C726.6,224.3 726.6,223.1 728.3,221.6Z" fill="#cc9933" stroke="#000" stroke-width="0.8"/>
<path d="M588.0,240.5C588.0,241.4 587.7,242.5 587.2,243.2C586.7,244.0 585.9,244.8 585.0,245.3C584.1,245.7 583.0,246.0 582.0,246.0C581.0,246.0 579.9,245.7 579.0,245.3C578.1,244.8 577.3,244.0 576.8,243.2C576.3,242.5 576.0,241.4 576.0,240.5C576.0,239.6 576.3,238.5 576.8,237.8C577.3,237.0 578.1,236.2 579.0,235.7C579.9,235.3 581.0,235.0 582.0,235.0C583.0,235.0 584.1,235.3 585.0,235.7C585.9,236.2 586.7,237.0 587.2,237.8C587.7,238.5 588.0,239.6 588.0,240.5Z" fill="#cc9933" stroke="#000" stroke-width="0.8"/>
<path d="M278.2,147.3C278.1,145.2 278.4,141.2 278.9,138.2C279.4,135.1 280.0,131.7 281.2,129.0C282.4,126.3 283.9,123.6 285.8,122.1C287.7,120.6 290.7,119.7 292.7,119.8C294.7,119.9 296.8,121.1 298.0,122.9C299.2,124.7 299.6,127.7 299.8,130.5C300.1,133.3 299.9,136.9 299.5,139.7C299.1,142.5 298.6,145.1 297.3,147.3C296.0,149.5 294.1,151.7 291.9,152.7C289.7,153.7 286.3,153.7 284.3,153.4C282.3,153.1 280.7,152.1 279.7,151.1C278.7,150.1 278.3,149.5 278.2,147.3Z" fill="#ffff99" stroke="#000" stroke-width="0.8"/>
<path d="M338.4,202.0C339.5,199.7 342.2,197.2 344.7,195.7C347.2,194.2 350.4,192.8 353.6,193.0C356.8,193.2 360.0,196.3 363.8,197.0C367.6,197.7 372.2,197.2 376.4,197.0C380.6,196.8 385.8,195.3 389.0,195.7C392.2,196.1 394.4,197.8 395.5,199.5C396.6,201.2 396.6,203.9 395.5,205.8C394.4,207.7 391.5,209.7 389.0,211.0C386.5,212.3 382.8,212.0 380.3,213.5C377.8,215.0 376.3,217.7 374.0,219.8C371.7,221.9 369.3,224.4 366.3,226.0C363.3,227.6 359.2,229.2 356.0,229.2C352.8,229.2 349.8,227.8 347.3,226.0C344.8,224.2 342.6,221.2 341.0,218.5C339.4,215.8 338.3,212.3 337.9,209.6C337.5,206.8 337.3,204.3 338.4,202.0Z" fill="#ffff99" stroke="#000" stroke-width="0.8"/>
<path d="M278.7,308.8C278.8,306.3 279.5,302.8 281.2,300.0C282.9,297.2 285.6,294.3 288.8,292.3C292.0,290.3 296.5,289.1 300.3,288.0C304.1,286.9 308.3,286.1 311.7,286.0C315.1,285.9 318.3,285.8 320.6,287.3C322.9,288.8 324.6,291.9 325.6,294.9C326.6,297.8 326.8,301.8 326.4,305.0C326.0,308.2 324.6,311.2 323.0,314.0C321.4,316.8 319.5,319.5 316.8,321.5C314.1,323.5 310.0,325.4 306.6,326.0C303.2,326.6 299.8,326.2 296.4,325.3C293.0,324.4 288.9,322.0 286.3,320.3C283.7,318.6 282.0,317.1 280.7,315.2C279.4,313.3 278.6,311.3 278.7,308.8Z" fill="#ffff99" stroke="#000" stroke-width="0.8"/>
<path d="M514.4,201.5C514.0,199.1 515.7,195.9 517.7,194.0C519.7,192.1 523.0,190.8 526.6,190.0C530.2,189.2 535.5,188.6 539.3,189.3C543.1,190.0 547.3,192.2 549.5,194.0C551.7,195.8 552.7,198.0 552.5,200.3C552.3,202.6 550.4,205.9 548.2,207.9C546.0,209.9 542.5,211.6 539.3,212.2C536.1,212.8 532.2,212.3 529.0,211.7C525.8,211.1 522.7,210.3 520.3,208.6C517.9,206.9 514.8,203.9 514.4,201.5Z" fill="#ffff99" stroke="#000" stroke-width="0.8"/>
<path d="M583.9,241.0C583.9,241.6 583.6,242.4 583.1,242.8C582.7,243.3 581.9,243.6 581.3,243.6C580.7,243.6 579.9,243.3 579.5,242.8C579.0,242.4 578.7,241.6 578.7,241.0C578.7,240.4 579.0,239.6 579.5,239.2C579.9,238.7 580.7,238.4 581.3,238.4C581.9,238.4 582.7,238.7 583.1,239.2C583.6,239.6 583.9,240.4 583.9,241.0Z" fill="#ffff99" stroke="#000" stroke-width="0.8"/>
<path d="M314.7,169.4C314.7,169.7 314.5,170.1 314.3,170.3C314.1,170.5 313.7,170.7 313.4,170.7C313.1,170.7 312.7,170.5 312.5,170.3C312.3,170.1 312.1,169.7 312.1,169.4C312.1,169.1 312.3,168.7 312.5,168.5C312.7,168.3 313.1,168.1 313.4,168.1C313.7,168.1 314.1,168.3 314.3,168.5C314.5,168.7 314.7,169.1 314.7,169.4Z" fill="#ffff99" stroke="#000" stroke-width="0.8"/>
<path d="M214.0,297.0C214.7,296.3 215.8,296.4 218.0,296.0C220.2,295.6 223.8,294.3 227.0,294.7C230.2,295.1 233.8,297.0 237.0,298.5C240.2,300.0 243.5,301.7 246.0,303.6C248.5,305.5 250.8,307.7 251.8,310.0C252.9,312.3 252.2,315.1 252.3,317.6C252.4,320.1 254.4,323.8 252.3,325.0C250.2,326.2 246.4,329.2 240.0,325.0C233.6,320.8 218.3,304.7 214.0,300.0C209.7,295.3 213.3,297.7 214.0,297.0Z" fill="#ffff99" stroke="#000" stroke-width="0.8"/>
<path d="M290.5,143.0C290.5,143.8 290.2,144.6 289.8,145.3C289.4,146.0 288.7,146.6 287.9,147.0C287.1,147.4 286.2,147.6 285.3,147.6C284.4,147.6 283.5,147.4 282.7,147.0C281.9,146.6 281.2,146.0 280.8,145.3C280.4,144.6 280.1,143.8 280.1,143.0C280.1,142.2 280.4,141.4 280.8,140.7C281.2,140.0 281.9,139.4 282.7,139.0C283.5,138.6 284.4,138.4 285.3,138.4C286.2,138.4 287.1,138.6 287.9,139.0C288.7,139.4 289.4,140.0 289.8,140.7C290.2,141.4 290.5,142.2 290.5,143.0Z" fill="#ccffcc" stroke="#000" stroke-width="0.8"/>
<path d="M343.5,207.0C343.9,204.2 345.4,201.2 347.3,199.5C349.2,197.8 352.4,196.8 354.9,197.0C357.4,197.2 360.4,198.7 362.5,200.8C364.6,202.9 366.9,206.8 367.5,209.6C368.1,212.3 367.6,215.3 366.3,217.3C365.1,219.3 362.6,220.9 360.0,221.6C357.4,222.3 353.6,222.4 351.0,221.6C348.4,220.8 345.9,218.9 344.7,216.5C343.4,214.1 343.1,209.8 343.5,207.0Z" fill="#ccffcc" stroke="#000" stroke-width="0.8"/>
<path d="M287.6,306.3C287.8,304.0 288.3,300.8 290.0,298.7C291.7,296.6 294.7,294.9 297.7,294.0C300.7,293.1 304.9,292.7 307.9,293.0C310.9,293.3 313.6,294.2 315.5,296.0C317.4,297.8 318.9,301.0 319.3,303.8C319.7,306.6 319.3,310.1 318.0,312.6C316.7,315.1 314.2,317.5 311.7,319.0C309.2,320.5 305.8,321.6 302.8,321.5C299.9,321.4 296.3,320.0 294.0,318.5C291.7,317.0 289.9,314.6 288.8,312.6C287.7,310.6 287.4,308.6 287.6,306.3Z" fill="#ccffcc" stroke="#000" stroke-width="0.8"/>
<path d="M546.8,204.0C546.8,205.1 546.3,206.2 545.4,207.2C544.5,208.1 543.0,208.9 541.4,209.5C539.8,210.0 537.8,210.3 536.0,210.3C534.2,210.3 532.2,210.0 530.6,209.5C529.0,208.9 527.5,208.1 526.6,207.2C525.7,206.2 525.2,205.1 525.2,204.0C525.2,202.9 525.7,201.8 526.6,200.8C527.5,199.9 529.0,199.1 530.6,198.5C532.2,198.0 534.2,197.7 536.0,197.7C537.8,197.7 539.8,198.0 541.4,198.5C543.0,199.1 544.5,199.9 545.4,200.8C546.3,201.8 546.8,202.9 546.8,204.0Z" fill="#ccffcc" stroke="#000" stroke-width="0.8"/>
<path d="M29.0,142.8C30.9,142.4 48.7,137.9 51.9,137.5C55.1,137.1 66.2,136.8 67.2,138.2C68.2,139.6 63.3,152.6 64.1,154.3C64.9,156.0 74.1,158.2 76.3,158.9C78.5,159.6 88.2,161.7 90.0,162.7C91.8,163.7 96.3,170.1 97.7,171.0C99.1,171.9 105.8,174.2 106.9,174.0C108.1,173.8 111.1,168.5 111.5,168.0" fill="none" stroke="#909096" stroke-width="1"/>
<path d="M120.0,139.0C119.4,138.8 114.0,135.5 113.0,136.0C112.0,136.5 108.7,143.3 108.4,145.0C108.2,146.7 110.1,154.4 110.0,155.8C109.9,157.2 106.8,161.0 106.9,162.0C107.0,163.0 111.1,167.5 111.5,168.0" fill="none" stroke="#909096" stroke-width="1"/>
<path d="M111.4,138.7C112.6,138.5 123.2,136.8 125.4,136.0C127.6,135.2 135.9,129.3 138.0,128.5C140.1,127.7 148.7,125.4 150.8,126.0C152.9,126.6 162.4,134.3 163.5,136.0C164.6,137.7 162.0,145.2 163.5,146.3C165.0,147.4 179.5,149.7 181.2,148.8C182.9,147.9 182.5,137.7 183.8,136.0C185.1,134.3 194.7,128.9 196.4,128.5C198.1,128.1 202.1,130.4 204.0,131.0C205.9,131.6 216.6,135.7 219.3,136.0C222.1,136.3 235.1,134.2 237.0,134.9C238.9,135.6 240.9,143.1 242.0,143.8C243.1,144.5 248.8,145.5 249.7,143.8C250.6,142.1 250.4,125.4 252.3,123.5C254.2,121.6 270.1,121.6 272.6,121.0C275.1,120.4 281.0,116.0 282.7,115.8C284.4,115.6 291.0,117.9 292.7,118.4C294.4,118.9 301.7,122.8 302.8,122.2C303.9,121.6 305.0,112.6 305.4,110.8C305.8,109.0 305.9,101.3 308.0,100.6C310.1,99.9 327.6,102.1 330.8,101.9C334.0,101.7 343.7,98.0 346.0,98.0C348.3,98.0 357.0,101.1 358.7,101.9C360.4,102.8 366.5,107.1 366.3,108.2C366.1,109.3 357.2,113.5 356.0,114.6C354.8,115.7 352.3,120.2 352.3,121.0C352.3,121.8 354.4,124.1 356.0,124.7C357.6,125.3 369.3,127.3 371.4,128.5C373.5,129.7 379.8,137.1 381.5,138.7C383.2,140.3 389.8,146.5 391.7,147.6C393.6,148.7 403.1,151.6 404.4,151.4C405.7,151.2 405.7,145.8 407.0,145.0C408.3,144.2 417.7,141.8 419.6,141.2C421.5,140.6 428.5,138.9 430.0,138.0C431.5,137.1 436.3,131.3 437.8,130.5C439.3,129.7 446.1,128.0 448.0,128.0C449.9,128.0 458.5,129.9 460.6,130.5C462.7,131.1 471.2,134.9 473.3,135.5C475.4,136.1 483.9,137.7 486.0,138.0C488.1,138.3 496.8,138.8 498.7,139.3C500.6,139.8 506.9,144.1 508.8,144.4C510.7,144.7 519.0,143.3 521.5,143.0C524.0,142.7 536.5,141.3 539.3,140.6C542.1,139.8 552.0,134.8 555.2,134.0C558.4,133.2 574.4,132.0 578.0,131.5C581.6,131.0 596.1,128.7 598.4,127.7C600.7,126.7 603.5,120.8 606.0,120.0C608.5,119.2 625.4,117.9 628.8,117.6C632.2,117.3 644.5,117.0 646.6,116.3C648.7,115.6 653.5,110.6 654.2,108.7C654.9,106.8 655.2,96.2 655.5,93.5C655.8,90.8 657.3,77.8 658.0,75.7C658.7,73.6 663.4,68.8 664.4,68.0C665.4,67.2 669.0,65.7 669.4,65.5" fill="none" stroke="#909096" stroke-width="1"/>
<path d="M181.2,117.0 L183.8,136.0" fill="none" stroke="#909096" stroke-width="1"/>
<path d="M181.2,117.0C182.9,117.0 199.0,117.7 201.5,117.0C204.0,116.3 211.0,110.4 211.7,108.2C212.4,106.0 210.5,92.0 210.4,90.5" fill="none" stroke="#909096" stroke-width="1"/>
<path d="M508.8,144.4C508.7,145.6 508.2,156.6 507.6,158.4C507.0,160.2 502.6,164.7 501.2,166.0C499.8,167.3 492.9,172.3 491.0,173.6C489.1,174.9 480.7,179.7 478.4,181.2C476.1,182.7 465.8,190.0 463.0,191.4C460.2,192.8 447.5,196.4 445.4,197.7C443.3,199.0 439.1,204.9 437.8,206.6C436.5,208.3 431.5,216.4 430.0,218.0C428.5,219.6 421.9,224.8 420.0,226.0C418.1,227.2 408.1,231.5 407.0,232.0" fill="none" stroke="#909096" stroke-width="1"/>
<path d="M460.0,240.6C460.8,240.6 468.7,240.1 470.0,240.6C471.3,241.1 473.3,246.3 475.2,247.0C477.1,247.7 490.0,249.4 493.0,249.5C496.0,249.6 507.4,248.6 510.8,248.2C514.2,247.8 530.2,245.2 533.6,244.4C537.0,243.6 548.6,239.6 551.4,238.0C554.1,236.4 564.1,227.2 566.6,225.4C569.1,223.6 578.8,217.1 581.8,216.5C584.8,215.9 598.6,217.5 602.0,217.8C605.4,218.1 619.0,219.9 622.4,220.3C625.8,220.7 640.0,222.2 642.7,222.8C645.5,223.4 654.1,226.9 655.4,228.0C656.7,229.1 658.2,233.6 658.5,235.5C658.8,237.4 657.9,248.8 658.5,250.8C659.1,252.8 663.9,258.4 666.0,259.6C668.1,260.8 682.5,265.0 684.0,265.5" fill="none" stroke="#909096" stroke-width="1"/>
<path d="M470.0,240.6C470.3,241.4 474.0,248.9 474.0,250.8C474.0,252.7 471.2,261.8 470.0,263.5C468.8,265.2 461.2,269.6 460.0,271.0C458.8,272.4 455.5,278.9 455.0,280.8C454.5,282.7 453.7,291.4 453.9,293.5C454.1,295.6 457.4,305.0 457.7,306.0" fill="none" stroke="#909096" stroke-width="1"/>
<path d="M219.0,220.0C220.2,221.1 230.3,230.4 233.0,232.7C235.7,235.0 248.1,245.2 250.8,248.0C253.6,250.8 264.1,263.4 266.0,265.7C267.9,268.0 271.7,274.2 273.6,275.8C275.5,277.4 286.5,283.3 288.8,284.7C291.1,286.1 299.2,291.6 301.5,292.3C303.8,293.0 314.3,294.1 316.8,293.6C319.3,293.1 329.7,287.6 332.0,286.0C334.3,284.4 342.6,275.8 344.7,274.6C346.8,273.4 356.0,273.2 357.4,272.0C358.8,270.8 359.9,262.1 361.2,260.6C362.5,259.1 370.4,254.6 372.6,254.3C374.8,254.0 386.0,257.7 387.8,256.8C389.6,255.9 392.9,245.1 394.5,243.0C396.1,240.9 406.0,232.9 407.0,232.0" fill="none" stroke="#909096" stroke-width="1"/>
<path d="M438.6,230.0C438.9,230.8 440.6,239.1 442.4,240.0C444.2,240.9 458.5,240.5 460.0,240.6" fill="none" stroke="#909096" stroke-width="1"/>
<path d="M185.0,145.0C185.4,146.1 188.9,155.9 190.2,157.8C191.5,159.7 198.4,166.5 200.3,168.0C202.2,169.5 210.7,174.2 213.0,175.5C215.3,176.8 226.6,181.7 228.2,183.0C229.8,184.3 232.2,189.4 232.0,190.8C231.8,192.2 227.1,198.8 225.7,199.6C224.3,200.4 216.6,200.1 215.5,201.0C214.4,201.9 212.6,209.3 213.0,211.0C213.4,212.7 220.0,220.3 220.6,221.2" fill="none" stroke="#909096" stroke-width="1"/>
<path d="M215.5,201.0C214.7,202.1 207.3,211.5 205.4,213.6C203.5,215.7 194.2,225.1 192.7,226.3C191.2,227.5 189.5,228.1 187.8,228.0C186.1,227.9 174.7,225.2 172.6,225.5C170.5,225.8 164.3,230.2 162.4,231.9C160.5,233.6 152.0,243.4 149.7,245.8C147.4,248.2 137.0,258.7 134.5,261.0C132.0,263.3 122.0,271.6 119.3,273.8C116.5,276.0 103.0,286.5 101.5,287.7" fill="none" stroke="#909096" stroke-width="1"/>
</g>
<path d="M138.4,69.5L144.3,69.2L150.4,71.5L161.0,74.5L171.8,75.3L182.4,73.0L190.0,75.3L197.7,78.3L206.9,79.8L220.6,78.0L227.0,74.7L229.5,69.6L237.0,67.0L244.7,63.3L252.3,58.2L260.0,53.0L267.6,48.0L276.4,44.3L286.6,41.7L296.7,38.0L304.4,34.9L314.5,35.9L327.2,36.6L334.8,36.6L342.4,39.2L352.6,40.5L361.5,37.4L367.8,34.0L371.6,35.4L374.0,42.0L376.7,47.0L379.0,49.3L385.4,51.9L393.0,53.7L400.6,50.6L408.2,49.3L412.0,54.4L412.0,59.5L417.0,67.0L422.2,74.7L429.8,72.2L438.7,69.6L445.0,73.5L450.0,78.0L457.7,79.8L465.3,83.6L473.0,82.3L479.3,84.9L487.0,88.2L497.0,89.2L507.2,89.2L517.4,86.0L527.5,83.0L537.7,83.0L550.0,84.6L560.3,86.3L570.5,87.9L580.6,85.8L588.2,80.8L595.8,77.0L603.5,73.0L609.8,68.0L616.0,63.0L622.5,58.0L623.8,54.0L627.6,56.6L635.0,56.6L641.5,54.0L649.0,55.4L656.8,55.4L661.8,58.0L663.0,52.8L667.0,49.0L670.7,51.6L674.5,56.6L680.9,59.2L687.2,64.3L694.8,68.0L698.6,74.4L705.0,79.5L710.0,84.6L712.6,90.9L711.3,97.3L707.5,102.3L707.5,108.7L711.3,115.0L713.9,121.4L720.2,125.2L730.4,126.0L739.7,125.6L747.4,128.9L752.4,134.0L758.8,139.0L759.5,143.4L755.0,139.5L750.0,137.0L746.0,141.6L744.8,148.0L741.0,153.0L733.4,155.5L730.9,158.0L733.4,163.0L736.0,170.8L739.7,178.4L742.3,186.0L741.8,193.6L743.5,201.2L748.6,207.0L750.0,212.7L747.4,219.0L745.3,225.4L748.6,231.7L755.0,235.5L761.3,238.0L762.6,244.4L763.9,250.8L769.0,257.0L771.5,262.2L767.7,265.5L761.3,267.3L757.5,271.0L753.7,274.9L749.9,273.6L751.0,268.5L746.0,265.5L739.7,261.0L733.4,263.5L727.0,266.5L719.4,265.5L711.8,262.2L704.2,260.4L696.6,262.2L690.3,263.5L685.2,266.0L681.4,271.0L677.6,275.6L672.5,274.9L670.0,268.5L666.0,266.5L661.0,269.8L653.5,274.9L644.6,278.7L635.7,280.7L623.0,281.2L612.8,280.0L602.7,282.5L594.5,285.0L587.0,290.0L579.3,295.2L570.0,299.3L560.0,303.9L550.8,304.6L541.6,305.7L531.0,306.6L526.3,304.6L521.8,307.0L517.2,303.0L511.0,299.3L505.0,296.2L498.9,295.0L494.3,296.2L485.0,300.8L476.0,304.6L468.3,306.9L459.2,307.7L455.0,307.0L450.0,306.4L443.8,301.0L437.7,298.7L430.0,300.3L428.5,306.4L429.3,314.8L433.1,320.1L437.7,326.2L431.6,329.3L425.5,330.0L421.7,332.3L420.2,336.9L414.8,340.0L411.8,345.3L411.8,349.0L406.4,348.4L402.6,345.3L398.0,348.4L401.0,341.5L401.8,333.9L399.5,327.7L400.3,320.9L405.6,314.8L411.8,310.2L414.0,304.8L412.5,297.2L407.2,293.4L400.3,296.5L390.4,301.8L386.6,304.8L390.4,304.0L393.4,305.6L392.0,310.2L388.9,312.5L381.2,311.7L375.0,307.9L367.5,304.0L359.8,300.3L353.0,300.3L346.0,303.3L343.0,307.5L335.3,313.6L329.2,319.7L327.0,325.0L321.6,327.3L312.4,331.0L301.8,332.7L291.0,334.2L281.9,335.7L274.3,338.0L268.2,335.0L262.0,331.0L256.0,324.3L249.8,317.4L245.3,312.8L237.6,309.0L230.0,305.2L221.8,299.8L214.2,296.0L206.6,293.5L196.4,293.0L188.8,292.2L185.0,297.3L182.5,303.6L180.7,308.7L181.2,315.0L180.0,320.0L176.0,321.4L171.0,318.8L166.0,321.4L155.8,324.0L148.2,326.4L140.6,325.2L134.3,320.0L128.0,315.0L122.8,310.0L121.6,303.6L119.0,297.3L112.7,298.5L107.9,296.6L101.5,292.8L95.2,289.0L90.0,290.3L86.3,292.8L82.5,294.0L78.7,291.0L66.0,292.8L53.3,294.6L54.6,291.5L63.5,289.0L73.6,287.7L81.2,285.2L87.6,282.6L90.0,279.3L76.0,278.8L61.0,278.8L49.5,277.6L48.2,273.8L53.3,271.2L59.6,268.7L61.0,263.6L57.0,257.3L52.0,253.5L47.0,249.6L48.2,244.6L44.4,240.8L45.7,235.7L49.5,231.9L53.8,232.9L55.2,229.4L53.8,226.6L49.0,225.2L43.3,223.8L37.7,222.4L35.0,218.2L32.0,214.0L28.0,216.8L23.8,215.4L19.6,212.6L14.0,212.0L11.9,209.8L13.3,207.0L17.5,207.7L21.0,205.6L21.7,202.8L18.9,199.3L17.5,195.2L18.9,191.7L22.4,191.7L25.2,195.2L25.8,200.0L27.2,203.5L28.0,207.7L29.3,209.8L30.0,207.0L32.0,205.6L37.7,207.0L44.7,207.7L49.6,207.0L50.3,203.5L46.0,202.0L40.5,199.3L37.0,195.2L35.0,191.0L36.3,187.5L42.0,185.4L46.8,184.7L49.0,181.2L46.0,178.4L40.5,177.0L38.4,173.5L40.5,170.0L35.5,166.0L31.7,161.0L33.0,157.0L39.3,153.3L44.4,149.5L40.6,147.0L28.0,145.7L19.0,147.0L11.4,145.7L12.7,140.6L14.0,133.0L16.5,125.4L21.6,121.6L28.0,116.5L28.2,117.0L31.7,113.5L37.8,107.4L40.9,105.4L50.8,105.9L55.4,103.6L63.0,104.4L66.0,107.4L70.6,111.2L76.8,113.5L82.9,111.2L85.2,107.4L81.3,104.4L80.6,102.0L85.9,102.8L90.5,104.4L88.2,108.2L89.0,111.2L96.6,110.5L107.6,110.4L115.3,111.1L122.9,111.1L130.5,111.1L135.9,109.6L136.6,107.3L132.8,105.8L126.7,105.8L123.7,104.3L125.2,102.7L130.5,100.5L135.1,98.9L141.2,97.4L145.8,96.6L155.0,97.4L164.1,95.9L166.4,92.8L161.0,92.0L153.4,92.8L145.8,91.3L141.2,88.2L137.8,82.9L137.8,76.8Z" fill="none" stroke="#00007f" stroke-width="2" stroke-linejoin="round"/>
<path d="M28.3,36.0L32.9,34.0L36.7,31.0L46.6,28.0L54.3,24.2L59.6,20.8L71.0,20.8L74.9,24.2L77.9,28.0L89.4,28.0L99.3,26.9L98.5,31.8L97.0,35.6L100.0,41.0L102.4,47.8L107.7,54.7L116.9,60.8L122.9,63.8L130.5,66.9L136.6,68.4L137.2,72.2L135.9,76.8L130.0,79.0L124.0,77.0L117.0,75.0L110.7,74.2L101.6,73.5L92.4,75.0L81.8,74.5L74.4,76.8L69.1,82.2L64.5,87.6L56.9,92.9L49.3,96.7L41.6,100.5L35.5,105.9L31.0,110.5L25.6,114.3L21.8,115.8L23.3,112.0L21.8,108.2L24.8,105.9L32.5,102.0L40.1,98.2L45.5,94.4L43.2,91.4L35.5,90.6L26.4,89.8L18.7,89.8L15.7,86.8L16.5,83.0L21.8,76.9L26.8,73.0L29.0,66.9L30.6,60.8L35.2,56.2L39.8,50.9L41.3,45.5L39.8,40.2L34.4,37.0Z" fill="none" stroke="#00007f" stroke-width="2" stroke-linejoin="round"/>
<circle cx="64.5" cy="37.6" r="1.95" fill="#000"/>
<circle cx="40.5" cy="39.1" r="1.95" fill="#000"/>
<circle cx="74.4" cy="76.8" r="1.95" fill="#000"/>
<circle cx="186.5" cy="95.3" r="1.95" fill="#000"/>
<circle cx="167.0" cy="93.2" r="1.95" fill="#000"/>
<circle cx="141.0" cy="98.3" r="1.95" fill="#000"/>
<circle cx="130.7" cy="121.0" r="1.95" fill="#000"/>
<circle cx="167.5" cy="125.5" r="1.95" fill="#000"/>
<circle cx="28.2" cy="117.3" r="1.95" fill="#000"/>
<circle cx="82.7" cy="146.4" r="1.95" fill="#000"/>
<circle cx="189.5" cy="146.5" r="1.95" fill="#000"/>
<circle cx="159.5" cy="171.4" r="1.95" fill="#000"/>
<circle cx="61.4" cy="197.6" r="1.95" fill="#000"/>
<circle cx="140.4" cy="200.8" r="1.95" fill="#000"/>
<circle cx="187.3" cy="197.2" r="1.95" fill="#000"/>
<circle cx="50.5" cy="207.7" r="1.95" fill="#000"/>
<circle cx="74.4" cy="237.5" r="1.95" fill="#000"/>
<circle cx="126.5" cy="245.4" r="1.95" fill="#000"/>
<circle cx="92.6" cy="271.5" r="1.95" fill="#000"/>
<circle cx="173.6" cy="249.4" r="1.95" fill="#000"/>
<circle cx="185.4" cy="248.3" r="1.95" fill="#000"/>
<circle cx="188.3" cy="291.7" r="1.95" fill="#000"/>
<circle cx="265.5" cy="244.5" r="1.95" fill="#000"/>
<circle cx="294.7" cy="280.4" r="1.95" fill="#000"/>
<circle cx="354.4" cy="241.5" r="1.95" fill="#000"/>
<circle cx="352.6" cy="299.2" r="1.95" fill="#000"/>
<circle cx="381.5" cy="288.2" r="1.95" fill="#000"/>
<circle cx="415.8" cy="286.3" r="1.95" fill="#000"/>
<circle cx="463.5" cy="287.5" r="1.95" fill="#000"/>
<circle cx="452.6" cy="305.4" r="1.95" fill="#000"/>
<circle cx="412.5" cy="331.5" r="1.95" fill="#000"/>
<circle cx="444.5" cy="261.4" r="1.95" fill="#000"/>
<circle cx="501.4" cy="220.3" r="1.95" fill="#000"/>
<circle cx="501.4" cy="252.5" r="1.95" fill="#000"/>
<circle cx="522.4" cy="284.5" r="1.95" fill="#000"/>
<circle cx="580.8" cy="241.0" r="1.95" fill="#000"/>
<circle cx="620.4" cy="242.4" r="1.95" fill="#000"/>
<circle cx="604.6" cy="271.6" r="1.95" fill="#000"/>
<circle cx="651.7" cy="237.6" r="1.95" fill="#000"/>
<circle cx="656.7" cy="213.4" r="1.95" fill="#000"/>
<circle cx="676.5" cy="252.5" r="1.95" fill="#000"/>
<circle cx="727.6" cy="250.8" r="1.95" fill="#000"/>
<circle cx="705.5" cy="205.3" r="1.95" fill="#000"/>
<circle cx="619.7" cy="138.5" r="1.95" fill="#000"/>
<circle cx="690.5" cy="142.2" r="1.95" fill="#000"/>
<circle cx="728.3" cy="129.6" r="1.95" fill="#000"/>
<circle cx="631.9" cy="198.7" r="1.95" fill="#000"/>
<circle cx="635.7" cy="72.4" r="1.95" fill="#000"/>
<circle cx="669.4" cy="72.4" r="1.95" fill="#000"/>
<circle cx="687.7" cy="98.5" r="1.95" fill="#000"/>
<circle cx="583.7" cy="83.3" r="1.95" fill="#000"/>
<circle cx="552.5" cy="85.9" r="1.95" fill="#000"/>
<circle cx="543.6" cy="114.3" r="1.95" fill="#000"/>
<circle cx="575.5" cy="122.4" r="1.95" fill="#000"/>
<circle cx="548.7" cy="150.3" r="1.95" fill="#000"/>
<circle cx="369.4" cy="34.9" r="1.95" fill="#000"/>
<circle cx="421.7" cy="74.7" r="1.95" fill="#000"/>
<circle cx="480.8" cy="88.7" r="1.95" fill="#000"/>
<circle cx="502.6" cy="91.5" r="1.95" fill="#000"/>
<circle cx="401.9" cy="106.4" r="1.95" fill="#000"/>
<circle cx="429.7" cy="123.5" r="1.95" fill="#000"/>
<circle cx="366.6" cy="109.1" r="1.95" fill="#000"/>
<circle cx="264.5" cy="55.2" r="1.95" fill="#000"/>
<circle cx="244.5" cy="63.6" r="1.95" fill="#000"/>
<circle cx="267.6" cy="77.8" r="1.95" fill="#000"/>
<circle cx="318.6" cy="66.3" r="1.95" fill="#000"/>
<circle cx="215.6" cy="92.4" r="1.95" fill="#000"/>
<circle cx="233.7" cy="98.2" r="1.95" fill="#000"/>
<circle cx="313.5" cy="107.2" r="1.95" fill="#000"/>
<circle cx="308.7" cy="143.2" r="1.95" fill="#000"/>
<circle cx="360.0" cy="146.5" r="1.95" fill="#000"/>
<circle cx="447.4" cy="152.5" r="1.95" fill="#000"/>
<circle cx="334.6" cy="180.7" r="1.95" fill="#000"/>
<circle cx="355.6" cy="207.6" r="1.95" fill="#000"/>
<circle cx="387.6" cy="202.8" r="1.95" fill="#000"/>
<circle cx="329.5" cy="219.3" r="1.95" fill="#000"/>
<circle cx="547.7" cy="180.5" r="1.95" fill="#000"/>
<circle cx="588.8" cy="191.4" r="1.95" fill="#000"/>
<circle cx="537.5" cy="204.8" r="1.95" fill="#000"/>
<text class="c" transform="translate(37.5,33.2) scale(0.945,1)">KIRKLARELİ</text>
<text class="c" transform="translate(42.8,46.4) scale(0.945,1)">EDİRNE</text>
<text class="c" transform="translate(51.6,72.5) scale(0.945,1)">TEKİRDAĞ</text>
<text class="c" transform="translate(121.3,79.4) scale(0.945,1)">İSTANBUL</text>
<text class="c" transform="translate(161.0,90.6) scale(0.945,1)">ADAPAZARI</text>
<text class="c" transform="translate(156.0,100.6) scale(0.945,1)">İZMİT</text>
<text class="c" transform="translate(134.0,107.3) scale(0.945,1)">YALOVA</text>
<text class="c" transform="translate(116.8,117.6) scale(0.945,1)">BURSA</text>
<text class="c" transform="translate(150.0,122.6) scale(0.945,1)">BİLECİK</text>
<text class="c" transform="translate(27.4,126.0) scale(0.945,1)">ÇANAKKALE</text>
<text class="c" transform="translate(59.6,142.2) scale(0.945,1)">BALIKESİR</text>
<text class="c" transform="translate(167.3,142.1) scale(0.945,1)">ESKİŞEHİR</text>
<text class="c" transform="translate(138.5,167.6) scale(0.945,1)">KÜTAHYA</text>
<text class="c" transform="translate(44.8,192.6) scale(0.945,1)">MANİSA</text>
<text class="c" transform="translate(129.0,196.0) scale(0.945,1)">UŞAK</text>
<text class="c" transform="translate(173.0,193.0) scale(0.945,1)">AFYON</text>
<text class="c" transform="translate(53.8,211.1) scale(0.945,1)">İZMİR</text>
<text class="c" transform="translate(62.0,233.6) scale(0.945,1)">AYDIN</text>
<text class="c" transform="translate(108.4,241.4) scale(0.945,1)">DENİZLİ</text>
<text class="c" transform="translate(76.6,267.0) scale(0.945,1)">MUĞLA</text>
<text class="c" transform="translate(156.2,245.3) scale(0.945,1)">BURDUR</text>
<text class="c" transform="translate(189.2,252.8) scale(0.945,1)">ISPARTA</text>
<text class="c" transform="translate(168.0,287.4) scale(0.945,1)">ANTALYA</text>
<text class="c" transform="translate(250.0,240.3) scale(0.945,1)">KONYA</text>
<text class="c" transform="translate(272.4,275.8) scale(0.945,1)">KARAMAN</text>
<text class="c" transform="translate(340.5,237.1) scale(0.945,1)">NİĞDE</text>
<text class="c" transform="translate(336.4,295.1) scale(0.945,1)">MERSİN</text>
<text class="c" transform="translate(371.4,298.2) scale(0.945,1)">ADANA</text>
<text class="c" transform="translate(393.0,282.4) scale(0.945,1)">OSMANİYE</text>
<text class="c" transform="translate(438.6,283.6) scale(0.945,1)">GAZİANTEP</text>
<text class="c" transform="translate(441.0,301.2) scale(0.945,1)">KİLİS</text>
<text class="c" transform="translate(391.2,327.8) scale(0.945,1)">ANTAKYA</text>
<text class="c" transform="translate(403.9,258.0) scale(0.945,1)">KAHRAMANMARAŞ</text>
<text class="c" transform="translate(480.3,216.0) scale(0.945,1)">MALATYA</text>
<text class="c" transform="translate(477.6,248.4) scale(0.945,1)">ADIYAMAN</text>
<text class="c" transform="translate(498.6,279.3) scale(0.945,1)">ŞANLIURFA</text>
<text class="c" transform="translate(552.8,237.1) scale(0.945,1)">DİYARBAKIR</text>
<text class="c" transform="translate(601.7,237.9) scale(0.945,1)">BATMAN</text>
<text class="c" transform="translate(586.4,267.6) scale(0.945,1)">MARDİN</text>
<text class="c" transform="translate(640.5,232.9) scale(0.945,1)">SİİRT</text>
<text class="c" transform="translate(642.0,209.3) scale(0.945,1)">BİTLİS</text>
<text class="c" transform="translate(659.8,248.3) scale(0.945,1)">ŞIRNAK</text>
<text class="c" transform="translate(706.2,246.0) scale(0.945,1)">HAKKARİ</text>
<text class="c" transform="translate(696.0,200.8) scale(0.945,1)">VAN</text>
<text class="c" transform="translate(597.7,135.1) scale(0.945,1)">ERZURUM</text>
<text class="c" transform="translate(679.6,138.1) scale(0.945,1)">AĞRI</text>
<text class="c" transform="translate(721.5,139.9) scale(0.945,1)">IĞDIR</text>
<text class="c" transform="translate(621.7,193.6) scale(0.945,1)">MUŞ</text>
<text class="c" transform="translate(619.2,68.2) scale(0.945,1)">ARTVİN</text>
<text class="c" transform="translate(647.9,68.2) scale(0.945,1)">ARDAHAN</text>
<text class="c" transform="translate(675.8,94.8) scale(0.945,1)">KARS</text>
<text class="c" transform="translate(573.8,79.1) scale(0.945,1)">RİZE</text>
<text class="c" transform="translate(532.6,82.2) scale(0.945,1)">TRABZON</text>
<text class="c" transform="translate(516.2,110.4) scale(0.945,1)">GÜMÜŞHANE</text>
<text class="c" transform="translate(555.7,118.0) scale(0.945,1)">BAYBURT</text>
<text class="c" transform="translate(526.0,145.8) scale(0.945,1)">ERZİNCAN</text>
<text class="c" transform="translate(356.4,31.2) scale(0.945,1)">SİNOP</text>
<text class="c" transform="translate(403.7,70.0) scale(0.945,1)">SAMSUN</text>
<text class="c" transform="translate(467.9,83.6) scale(0.945,1)">ORDU</text>
<text class="c" transform="translate(484.9,87.0) scale(0.945,1)">GİRESUN</text>
<text class="c" transform="translate(383.0,102.1) scale(0.945,1)">AMASYA</text>
<text class="c" transform="translate(415.3,119.2) scale(0.945,1)">TOKAT</text>
<text class="c" transform="translate(350.2,105.1) scale(0.945,1)">ÇORUM</text>
<text class="c" transform="translate(248.0,49.6) scale(0.945,1)">BARTIN</text>
<text class="c" transform="translate(217.6,59.6) scale(0.945,1)">ZONGULDAK</text>
<text class="c" transform="translate(246.0,73.6) scale(0.945,1)">KARABÜK</text>
<text class="c" transform="translate(291.2,62.1) scale(0.945,1)">KASTAMONU</text>
<text class="c" transform="translate(200.8,87.8) scale(0.945,1)">DÜZCE</text>
<text class="c" transform="translate(221.0,94.1) scale(0.945,1)">BOLU</text>
<text class="c" transform="translate(294.5,103.1) scale(0.945,1)">ÇANKIRI</text>
<text class="c" x="261.4" y="132.4" textLength="39.0" lengthAdjust="spacingAndGlyphs">ANKARA</text>
<text class="c" transform="translate(285.0,139.6) scale(0.945,1)">KIRIKKALE</text>
<text class="c" transform="translate(342.2,142.8) scale(0.945,1)">YOZGAT</text>
<text class="c" transform="translate(435.2,148.1) scale(0.945,1)">SİVAS</text>
<text class="c" transform="translate(313.2,176.6) scale(0.945,1)">KIRŞEHİR</text>
<text class="c" transform="translate(333.3,202.9) scale(0.945,1)">NEVŞEHİR</text>
<text class="c" transform="translate(368.3,198.3) scale(0.945,1)">KAYSERİ</text>
<text class="c" transform="translate(308.7,215.1) scale(0.945,1)">AKSARAY</text>
<text class="c" transform="translate(529.0,177.0) scale(0.945,1)">TUNCELİ</text>
<text class="c" transform="translate(571.8,187.6) scale(0.945,1)">BİNGÖL</text>
<text class="c" transform="translate(521.5,201.1) scale(0.945,1)">ELAZIĞ</text>
<rect x="256" y="358" width="100" height="46" fill="#fafafa"/><path d="M288.7,378.0L298.5,381.2L307.3,382.0L316.2,381.6L323.3,378.0L330.4,376.0L336.6,371.8L343.7,368.3L349.9,364.7L353.4,363.9L353.4,366.0L348.0,369.2L341.0,372.7L335.7,376.3L332.0,380.7L327.7,383.4L326.8,387.0L327.7,391.3L323.3,393.0L320.5,394.5L318.0,393.0L314.4,394.9L310.9,393.0L308.2,391.3L303.8,390.4L298.5,389.6L293.2,388.7L288.7,388.7L287.8,385.0L288.7,381.6Z" fill="#e9e9e9" stroke="#9a9a9a" stroke-width="0.7"/><path d="M271.0,393.0L273.7,388.7L278.0,387.4L284.3,389.6L288.7,388.7" fill="none" stroke="#9a9a9a" stroke-width="0.7"/><path d="M327.7,391.3L330.4,394.9L334.0,399.3L328.6,399.3L323.3,397.5L318.0,400.0L316.2,402.5" fill="none" stroke="#9a9a9a" stroke-width="0.7"/><text class="s" x="117.5" y="398.5" font-size="10.3">* Bu veriler kalite kontrolden geçmemiştir.</text><rect x="119.5" y="426.5" width="143.0" height="23" fill="#ccffcc" stroke="#000" stroke-width="1"/><text class="lg" transform="translate(191.0,435.6) scale(0.855,1)" fill="#000">NORMAL VE ÜZERİ</text><text class="lg" transform="translate(191.0,446) scale(0.855,1)" fill="#000">(Risk Yok)</text><rect x="262.5" y="426.5" width="142.0" height="23" fill="#ffff99" stroke="#000" stroke-width="1"/><text class="lg" transform="translate(333.5,435.6) scale(0.855,1)" fill="#000">HAFİF KURAK</text><text class="lg" transform="translate(333.5,446) scale(0.855,1)" fill="#000">(İzlemeye Başla)</text><rect x="404.5" y="426.5" width="143.0" height="23" fill="#cc9933" stroke="#000" stroke-width="1"/><text class="lg" transform="translate(476.0,435.6) scale(0.855,1)" fill="#000">ORTA ŞİDDETTE KURAK</text><text class="lg" transform="translate(476.0,446) scale(0.855,1)" fill="#000">(Uyarı)</text><rect x="547.5" y="426.5" width="144.0" height="23" fill="#663333" stroke="#000" stroke-width="1"/><text class="lg" transform="translate(619.5,435.6) scale(0.855,1)" fill="#f0dcdc">ŞİDDETLİ KURAK</text><text class="lg" transform="translate(619.5,446) scale(0.855,1)" fill="#f0dcdc">(Acil Durum)</text><text class="s" x="253.3" y="461.8" font-size="10" font-weight="bold">% 85</text><text class="s" x="394.7" y="461.8" font-size="10" font-weight="bold">% 75</text><text class="s" x="537.2" y="461.8" font-size="10" font-weight="bold">% 65</text><text class="s" x="546.7" y="345.2" font-size="14.8" font-weight="bold">Normalin Yüzdesi Metodu ile</text><text class="s" x="537.8" y="364.8" font-size="14.8" font-weight="bold">Meteorolojik Kuraklık Haritası</text><text class="s" x="600.3" y="381.3" font-size="11.4" font-weight="bold">(Percent of Normal)</text><text class="s" x="534.4" y="400.7" font-size="14.8" font-weight="bold">12 Aylık (Aralık 2024-Kasım 2025)</text><text class="s" x="533.7" y="416" font-size="11.4">Hazırlanış Tarihi: Aralık 2025</text><text class="s" x="613.3" y="309.7" font-size="14.4" font-weight="bold" stroke="#000" stroke-width="0.5" textLength="76" lengthAdjust="spacingAndGlyphs">MGM</text><text class="s" x="579.8" y="310.4" font-size="15.4" font-weight="bold" stroke="#000" stroke-width="0.4" textLength="24" lengthAdjust="spacingAndGlyphs">©</text><circle cx="56.5" cy="227.1" r="1.9" fill="#7a3b3b" stroke="#3a1a1a" stroke-width="0.5"/><circle cx="5" cy="14" r="1.8"/><circle cx="5.5" cy="55.7" r="0.9" fill="#00007f"/><circle cx="5" cy="425" r="1.8"/><circle cx="783.4" cy="425" r="1.8"/><circle cx="783.4" cy="12.7" r="1.8"/>
</svg></body></html>
